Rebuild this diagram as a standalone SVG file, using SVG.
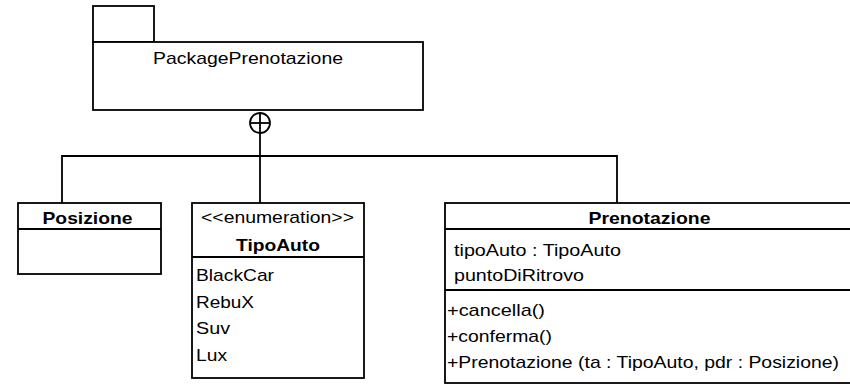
<svg xmlns="http://www.w3.org/2000/svg" width="850" height="385" viewBox="0 0 850 385">
<style>
.box{fill:#fff;stroke:#000;stroke-width:1.8}
.ln{fill:none;stroke:#000;stroke-width:1.8}
text{font-family:"Liberation Sans",Arial,sans-serif;font-size:17px;fill:#000}
.b{font-weight:bold}
</style>
<rect width="850" height="385" fill="#fff"/>
<g id="connectors">
<circle class="ln" cx="260" cy="123" r="10"/>
<line class="ln" x1="250" y1="123" x2="270" y2="123"/>
<line class="ln" x1="260" y1="113" x2="260" y2="203"/>
<polyline class="ln" points="62,203 62,156 617,156 617,203"/>
</g>
<g id="PackagePrenotazione">
<rect class="box" x="93" y="6" width="61" height="36"/>
<rect class="box" x="93" y="42" width="330" height="68"/>
<text x="153" y="63.5" textLength="190" lengthAdjust="spacingAndGlyphs">PackagePrenotazione</text>
</g>
<g id="Posizione">
<rect class="box" x="18" y="203" width="143" height="71"/>
<line class="ln" x1="18" y1="229" x2="161" y2="229"/>
<text class="b" x="42.5" y="223.5" textLength="90" lengthAdjust="spacingAndGlyphs">Posizione</text>
</g>
<g id="TipoAuto">
<rect class="box" x="192" y="203" width="172" height="175"/>
<line class="ln" x1="192" y1="257" x2="364" y2="257"/>
<text x="201" y="222.5" textLength="153" lengthAdjust="spacingAndGlyphs">&lt;&lt;enumeration&gt;&gt;</text>
<text class="b" x="236" y="250.5" textLength="84" lengthAdjust="spacingAndGlyphs">TipoAuto</text>
<text x="196" y="281" textLength="78" lengthAdjust="spacingAndGlyphs">BlackCar</text>
<text x="196" y="307.5" textLength="58" lengthAdjust="spacingAndGlyphs">RebuX</text>
<text x="196" y="334" textLength="34" lengthAdjust="spacingAndGlyphs">Suv</text>
<text x="196" y="360.5" textLength="31" lengthAdjust="spacingAndGlyphs">Lux</text>
</g>
<g id="Prenotazione">
<rect class="box" x="445" y="203" width="420" height="180"/>
<line class="ln" x1="445" y1="229" x2="850" y2="229"/>
<line class="ln" x1="445" y1="290" x2="850" y2="290"/>
<text class="b" x="588.5" y="223.5" textLength="122" lengthAdjust="spacingAndGlyphs">Prenotazione</text>
<text x="454" y="255.5" textLength="167" lengthAdjust="spacingAndGlyphs">tipoAuto : TipoAuto</text>
<text x="454" y="280.5" textLength="130" lengthAdjust="spacingAndGlyphs">puntoDiRitrovo</text>
<text x="447" y="316" textLength="98" lengthAdjust="spacingAndGlyphs">+cancella()</text>
<text x="447" y="342" textLength="105" lengthAdjust="spacingAndGlyphs">+conferma()</text>
<text x="447" y="368" textLength="392" lengthAdjust="spacingAndGlyphs">+Prenotazione (ta : TipoAuto, pdr : Posizione)</text>
</g>
</svg>
